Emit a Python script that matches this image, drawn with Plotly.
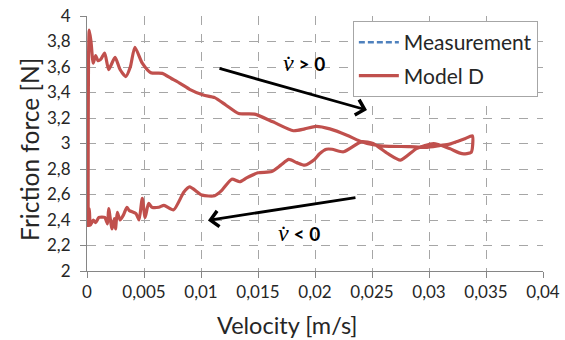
import plotly.graph_objects as go

# Model D hysteresis loop: velocity [m/s] and friction force [N]
velocity = [
    0.0001, 0.0002, 0.00035, 0.00055, 0.00076, 0.00096, 0.0012, 0.00155, 0.0019, 0.00246,
    0.0029, 0.0034, 0.0038, 0.0042, 0.00485, 0.0056, 0.0066, 0.0074, 0.0082, 0.009,
    0.0102, 0.0112, 0.0122, 0.0133, 0.0147, 0.0163, 0.0181, 0.0191, 0.0201, 0.0213,
    0.0228, 0.0239, 0.0251, 0.026, 0.0283, 0.0297, 0.031, 0.0318, 0.0326, 0.0332,
    0.0338,
    0.0337, 0.0329, 0.0318, 0.0304, 0.0289, 0.0275, 0.0264, 0.0251, 0.0241, 0.0225,
    0.0215, 0.0210, 0.0204, 0.0199, 0.0191, 0.0184, 0.0177, 0.0170, 0.0162, 0.0150,
    0.0140, 0.0134, 0.0127, 0.0118, 0.0112, 0.0101, 0.0090, 0.0085, 0.0076, 0.00675,
    0.0063, 0.0057, 0.0054, 0.0051, 0.00485, 0.00456, 0.0043, 0.0037, 0.0035, 0.0032,
    0.0029, 0.00266, 0.0025, 0.0024, 0.0022, 0.0019, 0.0018, 0.00155, 0.00105, 0.00076,
    0.00055, 0.0003, 0.0002, 0.0001,
]
friction = [
    2.35, 3.89, 3.80, 3.63, 3.69, 3.65, 3.66, 3.71, 3.58, 3.675,
    3.58, 3.525, 3.60, 3.755, 3.63, 3.555, 3.55, 3.51, 3.47, 3.425,
    3.38, 3.36, 3.30, 3.235, 3.23, 3.17, 3.10, 3.115, 3.135, 3.115,
    3.065, 3.02, 2.99, 2.98, 2.975, 2.97, 2.985, 2.995, 3.02, 3.04,
    3.06,
    2.93, 2.92, 2.96, 3.00, 2.96, 2.87, 2.92, 3.00, 3.015, 2.935,
    2.955, 2.955, 2.92, 2.87, 2.83, 2.85, 2.875, 2.83, 2.78, 2.77,
    2.73, 2.70, 2.72, 2.63, 2.59, 2.595, 2.66, 2.62, 2.48, 2.515,
    2.50, 2.50, 2.53, 2.42, 2.57, 2.40, 2.45, 2.475, 2.50, 2.44,
    2.40, 2.46, 2.33, 2.41, 2.33, 2.49, 2.37, 2.42, 2.42, 2.38,
    2.40, 2.36, 2.49, 2.345,
]

series_names = ["Measurement", "Model D"]
x_title = "Velocity [m/s]"
y_title = "Friction force [N]"
label_up = ("v̇", "> 0")
label_down = ("v̇", "< 0")

# arrow annotations (data coords: tail -> tip)
arrow_up = dict(tail=(0.01149, 3.592), tip=(0.02456, 3.262))
arrow_down = dict(tail=(0.02368, 2.578), tip=(0.01061, 2.397))
label_up_pos = (0.0190, 3.63)
label_down_pos = (0.0186, 2.30)

FONT = "Lato"
RED = "#C0504D"
BLUE = "#4F81BD"
GRID = "#a6a6a6"
TXT = "#262626"

fig = go.Figure()
fig.add_trace(go.Scatter(
    x=[None], y=[None], mode="lines", name=series_names[0],
    line=dict(color=BLUE, width=2.5, dash="6px,3px"), legendgroup="a",
))
fig.add_trace(go.Scatter(
    x=velocity, y=friction, mode="lines", name=series_names[1],
    line=dict(color=RED, width=3.2, shape="spline", smoothing=0.6), legendgroup="b",
))

for arr in (arrow_up, arrow_down):
    fig.add_annotation(
        x=arr["tip"][0], y=arr["tip"][1], ax=arr["tail"][0], ay=arr["tail"][1],
        xref="x", yref="y", axref="x", ayref="y", text="", showarrow=True,
        arrowhead=4, arrowsize=1.1, arrowwidth=2.8, arrowcolor="black",
    )

def lab(parts):
    sym, rest = parts
    return ("<span style='font-family:Liberation Serif;font-style:italic;font-size:24px'>" + sym +
            "</span> <b>" + rest + "</b>")

fig.add_annotation(x=label_up_pos[0], y=label_up_pos[1], xref="x", yref="y",
                   text=lab(label_up), showarrow=False,
                   font=dict(family=FONT, size=19, color="black"))
fig.add_annotation(x=label_down_pos[0], y=label_down_pos[1], xref="x", yref="y",
                   text=lab(label_down), showarrow=False,
                   font=dict(family=FONT, size=19, color="black"))

# axis titles (placed as in the reference, slightly off-centre)
fig.add_annotation(x=0.4386, y=-0.212, xref="paper", yref="paper", text=x_title,
                   showarrow=False, xanchor="center", yanchor="middle",
                   font=dict(family=FONT, size=23.5, color=TXT))
fig.add_annotation(x=-0.125, y=0.475, xref="paper", yref="paper", text=y_title,
                   showarrow=False, xanchor="center", yanchor="middle", textangle=-90,
                   font=dict(family=FONT, size=24.5, color=TXT))

axis_common = dict(
    showgrid=True, gridcolor=GRID, griddash="dash", gridwidth=1,
    showline=True, linecolor="#868686", linewidth=1,
    ticks="outside", ticklen=6, tickcolor="#868686",
    tickfont=dict(family=FONT, size=17, color=TXT),
    zeroline=False, automargin=False,
)

fig.update_xaxes(range=[0, 0.04], dtick=0.005, tick0=0, **axis_common)
fig.update_yaxes(range=[2, 4], dtick=0.2, tick0=2, ticklabelstandoff=6, **axis_common)

fig.update_layout(
    width=565, height=340,
    margin=dict(l=87, r=22, t=16, b=69),
    paper_bgcolor="white", plot_bgcolor="white",
    separators=", ",
    font=dict(family=FONT),
    legend=dict(
        x=0.583, y=0.98, xanchor="left", yanchor="top",
        bgcolor="white", bordercolor=GRID, borderwidth=1,
        font=dict(family=FONT, size=21, color=TXT),
        traceorder="grouped", tracegroupgap=3, itemwidth=40,
    ),
)

fig.write_html(
    "out.html",
    config={"displayModeBar": False},
    post_script="document.body.style.margin='0';document.body.style.overflow='hidden';",
)
